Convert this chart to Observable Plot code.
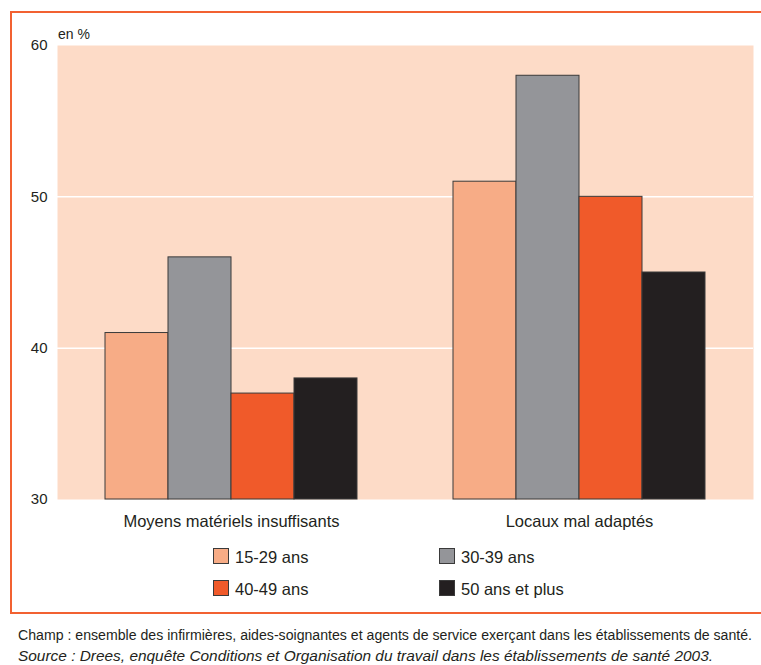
<!DOCTYPE html>
<html>
<head>
<meta charset="utf-8">
<script src="https://cdn.jsdelivr.net/npm/d3@7"></script>
<script src="https://cdn.jsdelivr.net/npm/@observablehq/plot@0.6"></script>
<style>
  html, body { margin: 0; padding: 0; background: #ffffff; }
  #wrap { position: relative; width: 761px; height: 665px; overflow: hidden; background: #ffffff;
          font-family: "Liberation Sans", Arial, Helvetica, sans-serif; color: #231f20; }
  .abs { position: absolute; }
  .line { position: absolute; background: #f26131; }
  .sw { position: absolute; width: 16px; height: 16px; box-sizing: border-box; border: 1px solid #3a3a3a; }
  .lg { position: absolute; font-size: 16.5px; line-height: 16px; white-space: nowrap; }
</style>
</head>
<body>
<div id="wrap"></div>
<script>
// ---- data ----
const categories = ["Moyens matériels insuffisants", "Locaux mal adaptés"];
const ageGroups = ["15-29 ans", "30-39 ans", "40-49 ans", "50 ans et plus"];
const moyensValues = [41, 46, 37, 38];
const locauxValues = [51, 58, 50, 45];
const yTicks = [30, 40, 50, 60];
const gridTicks = [40, 50];
const ageColors = ["#f7ac86", "#949599", "#f05a2a", "#231f20"];
const unitLabel = "en %";
const captionChamp = "Champ : ensemble des infirmières, aides-soignantes et agents de service exerçant dans les établissements de santé.";
const captionSource = "Source : Drees, enquête Conditions et Organisation du travail dans les établissements de santé 2003.";

const rows = [];
ageGroups.forEach((a, i) => rows.push({category: categories[0], age: a, value: moyensValues[i]}));
ageGroups.forEach((a, i) => rows.push({category: categories[1], age: a, value: locauxValues[i]}));

const yDomain = [yTicks[0], yTicks[yTicks.length - 1]];
const W = 761, H = 540;
const M = {marginLeft: 57, marginRight: 8, marginTop: 45, marginBottom: 41};
const font = "'Liberation Sans', Arial, Helvetica, sans-serif";

const wrap = document.getElementById("wrap");

function line(l, t, w, h) {
  const d = document.createElement("div");
  d.className = "line";
  Object.assign(d.style, {left: l + "px", top: t + "px", width: w + "px", height: h + "px"});
  wrap.appendChild(d);
}

// base plot: background, grid, y axis
const base = Plot.plot({
  width: W, height: H, ...M,
  style: {background: "transparent", fontFamily: font, fontSize: "15px", color: "#231f20", overflow: "visible"},
  y: {domain: yDomain, axis: null},
  marks: [
    Plot.frame({fill: "#fddbc7", stroke: null}),
    Plot.ruleY(gridTicks, {stroke: "#ffffff", strokeWidth: 1.5}),
    Plot.axisY(yTicks, {tickSize: 0, tickPadding: 10, label: null, fontSize: 15})
  ]
});
base.style.position = "absolute"; base.style.left = "0px"; base.style.top = "0px";
wrap.appendChild(base);

// bars plot (faceted)
const bars = Plot.plot({
  width: W, height: H, ...M,
  style: {background: "transparent", fontFamily: font, fontSize: "16.5px", color: "#231f20", overflow: "visible"},
  y: {domain: yDomain, axis: null},
  x: {domain: ageGroups, padding: 0, axis: null},
  fx: {domain: categories, paddingInner: 0.27, paddingOuter: 0.135},
  color: {domain: ageGroups, range: ageColors},
  marks: [
    Plot.barY(rows, {fx: "category", x: "age", y1: yDomain[0], y2: "value", fill: "age",
                     stroke: "#3a3a3a", strokeWidth: 1, inset: 0}),
    Plot.axisFx({anchor: "bottom", tickSize: 0, tickPadding: 16, label: null, fontSize: 16.5})
  ]
});
bars.style.position = "absolute"; bars.style.left = "0px"; bars.style.top = "0px";
wrap.appendChild(bars);

line(10, 11, 751, 2);
line(10, 11, 2, 603);
line(10, 612, 751, 2);

// unit label
const unit = document.createElement("div");
unit.className = "abs";
unit.textContent = unitLabel;
Object.assign(unit.style, {left: "58px", top: "27px", fontSize: "14px", lineHeight: "14px"});
wrap.appendChild(unit);

// legend
const legPos = [[213, 548], [439, 548], [213, 580], [439, 580]];
ageGroups.forEach((a, i) => {
  const [lx, ly] = legPos[i];
  const s = document.createElement("div");
  s.className = "sw";
  Object.assign(s.style, {left: lx + "px", top: ly + "px", background: ageColors[i]});
  wrap.appendChild(s);
  const t = document.createElement("div");
  t.className = "lg";
  t.textContent = a;
  Object.assign(t.style, {left: (lx + 22) + "px", top: (ly + 1) + "px"});
  wrap.appendChild(t);
});

// caption
const ns = "http://www.w3.org/2000/svg";
const cap = document.createElementNS(ns, "svg");
cap.setAttribute("width", W); cap.setAttribute("height", 51);
Object.assign(cap.style, {position: "absolute", left: "0px", top: "614px"});
function capText(str, y, len, italic) {
  const t = document.createElementNS(ns, "text");
  t.setAttribute("x", 18); t.setAttribute("y", y);
  t.setAttribute("textLength", len); t.setAttribute("lengthAdjust", "spacingAndGlyphs");
  t.setAttribute("font-family", font); t.setAttribute("font-size", "14px"); t.setAttribute("fill", "#231f20");
  if (italic) t.setAttribute("font-style", "italic");
  t.textContent = str;
  cap.appendChild(t);
}
capText(captionChamp, 26, 734, false);
capText(captionSource, 47, 695, true);
wrap.appendChild(cap);
</script>
</body>
</html>
